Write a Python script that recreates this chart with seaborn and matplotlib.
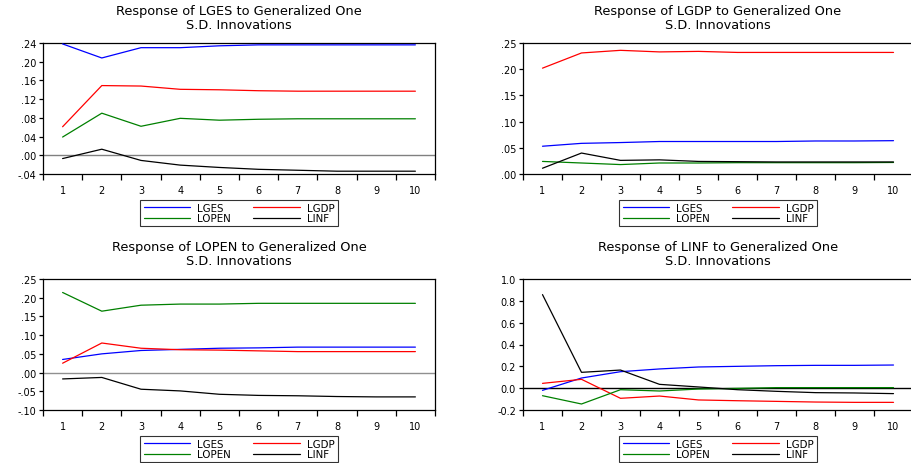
import numpy as np
import pandas as pd
import seaborn as sns
import matplotlib
matplotlib.use("Agg")
import matplotlib.pyplot as plt
from matplotlib.ticker import FixedLocator, FuncFormatter, NullFormatter

sns.set_style("white")
plt.rcParams['font.family'] = ['DejaVu Sans']
plt.rcParams.update({"text.color": "black", "xtick.color": "black", "ytick.color": "black",
                     "axes.labelcolor": "black", "legend.labelcolor": "black",
                     "xtick.bottom": True, "ytick.left": True,
                     "xtick.major.size": 4, "ytick.major.size": 3,
                     "xtick.major.width": 0.9, "ytick.major.width": 0.9,
                     "xtick.direction": "out", "ytick.direction": "out"})

periods = list(range(1, 11))
shocks = ["LGES", "LGDP", "LOPEN", "LINF"]
colors = {"LGES": "#0000ff", "LGDP": "#ff0000", "LOPEN": "#008000", "LINF": "#000000"}

# response of LGES
lges_lges = [0.238, 0.208, 0.230, 0.230, 0.234, 0.236, 0.236, 0.236, 0.236, 0.236]
lges_lgdp = [0.061, 0.149, 0.148, 0.141, 0.140, 0.138, 0.137, 0.137, 0.137, 0.137]
lges_lopen = [0.039, 0.090, 0.062, 0.079, 0.075, 0.077, 0.078, 0.078, 0.078, 0.078]
lges_linf = [-0.007, 0.013, -0.011, -0.021, -0.026, -0.030, -0.032, -0.034, -0.034, -0.034]

# response of LGDP
lgdp_lges = [0.053, 0.0585, 0.060, 0.062, 0.062, 0.062, 0.062, 0.063, 0.063, 0.0636]
lgdp_lgdp = [0.202, 0.231, 0.236, 0.233, 0.234, 0.232, 0.232, 0.232, 0.232, 0.232]
lgdp_lopen = [0.024, 0.021, 0.018, 0.021, 0.021, 0.0216, 0.0216, 0.0216, 0.0216, 0.022]
lgdp_linf = [0.011, 0.040, 0.026, 0.027, 0.024, 0.0235, 0.023, 0.023, 0.023, 0.023]

# response of LOPEN
lopen_lges = [0.035, 0.050, 0.059, 0.062, 0.065, 0.066, 0.068, 0.068, 0.068, 0.068]
lopen_lgdp = [0.025, 0.079, 0.065, 0.061, 0.060, 0.058, 0.056, 0.056, 0.056, 0.056]
lopen_lopen = [0.214, 0.164, 0.180, 0.183, 0.183, 0.185, 0.185, 0.185, 0.185, 0.185]
lopen_linf = [-0.017, -0.013, -0.0445, -0.049, -0.058, -0.061, -0.062, -0.064, -0.065, -0.065]

# response of LINF
linf_lges = [-0.020, 0.093, 0.151, 0.176, 0.194, 0.200, 0.206, 0.209, 0.209, 0.212]
linf_lgdp = [0.044, 0.081, -0.093, -0.072, -0.108, -0.115, -0.121, -0.127, -0.130, -0.130]
linf_lopen = [-0.069, -0.145, -0.014, -0.026, -0.008, -0.002, 0.005, 0.005, 0.005, 0.005]
linf_linf = [0.857, 0.145, 0.166, 0.035, 0.011, -0.014, -0.029, -0.041, -0.044, -0.050]

panels = [
    ("LGES", [lges_lges, lges_lgdp, lges_lopen, lges_linf], np.arange(-0.04, 0.241, 0.04), 2, "#808080"),
    ("LGDP", [lgdp_lges, lgdp_lgdp, lgdp_lopen, lgdp_linf], np.arange(0.0, 0.251, 0.05), 2, None),
    ("LOPEN", [lopen_lges, lopen_lgdp, lopen_lopen, lopen_linf], np.arange(-0.10, 0.251, 0.05), 2, "#909090"),
    ("LINF", [linf_lges, linf_lgdp, linf_lopen, linf_linf], np.arange(-0.2, 1.01, 0.2), 1, "#000000"),
]

# axes boxes in pixels: left, top, right, bottom
W, H = 911, 464
boxes = [(43, 44, 435, 175), (523, 44, 913, 175), (43, 280, 435, 411), (523, 280, 913, 411)]


def fmt_factory(dec):
    def fmt(v, pos):
        s = f"{v:.{dec}f}"
        if dec == 2:
            if s.startswith("0."):
                s = s[1:]
            elif s.startswith("-0."):
                s = "-" + s[2:]
        if s in ("-.00", "-0.0"):
            s = s[1:]
        return s
    return fmt


fig = plt.figure(figsize=(W / 100, H / 100), dpi=100)

for (resp, series, yticks, dec, zcol), (l, t, r, b) in zip(panels, boxes):
    ax = fig.add_axes([l / W, 1 - b / H, (r - l) / W, (b - t) / H])
    df = pd.DataFrame({
        "period": np.tile(periods, 4),
        "value": np.concatenate(series),
        "shock": np.repeat(shocks, 10),
    })
    if zcol is not None:
        ax.axhline(0, color=zcol, lw=1.0, zorder=1)
    sns.lineplot(data=df, x="period", y="value", hue="shock", hue_order=shocks,
                 palette=colors, lw=0.9, ax=ax, legend=False, zorder=3)

    yt = np.round(yticks, 3)
    ax.set_ylim(yt[0], yt[-1])
    ax.set_xlim(0.5, 10.5)
    ax.yaxis.set_major_locator(FixedLocator(yt))
    ax.yaxis.set_major_formatter(FuncFormatter(fmt_factory(dec)))
    # tick marks sit between periods, labels sit on the periods
    ax.set_xticks(np.arange(0.5, 10.6, 1))
    ax.xaxis.set_major_formatter(NullFormatter())
    ax.set_xticks(periods, [str(p) for p in periods], minor=True)
    ax.tick_params(axis="x", which="major", length=4, width=0.9, bottom=True, color="black")
    ax.tick_params(axis="x", which="minor", length=0, pad=8, labelsize=7)
    ax.tick_params(axis="y", which="major", length=3, width=0.9, left=True,
                   color="black", labelsize=7, pad=2)
    ax.tick_params(axis="y", which="minor", left=False, length=0)
    ax.set_xlabel("")
    ax.set_ylabel("")
    for sp in ax.spines.values():
        sp.set_color("black")
        sp.set_linewidth(0.9)
    ax.set_title(f"Response of {resp} to Generalized One\nS.D. Innovations",
                 fontsize=9.3, pad=11, linespacing=1.05, color="black")

    handles = [plt.Line2D([], [], color=colors[s], lw=0.9) for s in shocks]
    order = [0, 2, 1, 3]
    leg = ax.legend([handles[i] for i in order], [shocks[i] for i in order],
                    loc="upper center", bbox_to_anchor=(0.5, -0.195), ncol=2,
                    fontsize=7.4, frameon=True, fancybox=False, handlelength=4.5,
                    columnspacing=2.2, borderpad=0.3, labelspacing=0.05,
                    handletextpad=0.7, borderaxespad=0)
    leg.get_frame().set_edgecolor("black")
    leg.get_frame().set_linewidth(0.8)

fig.savefig("out.png", dpi=100)
